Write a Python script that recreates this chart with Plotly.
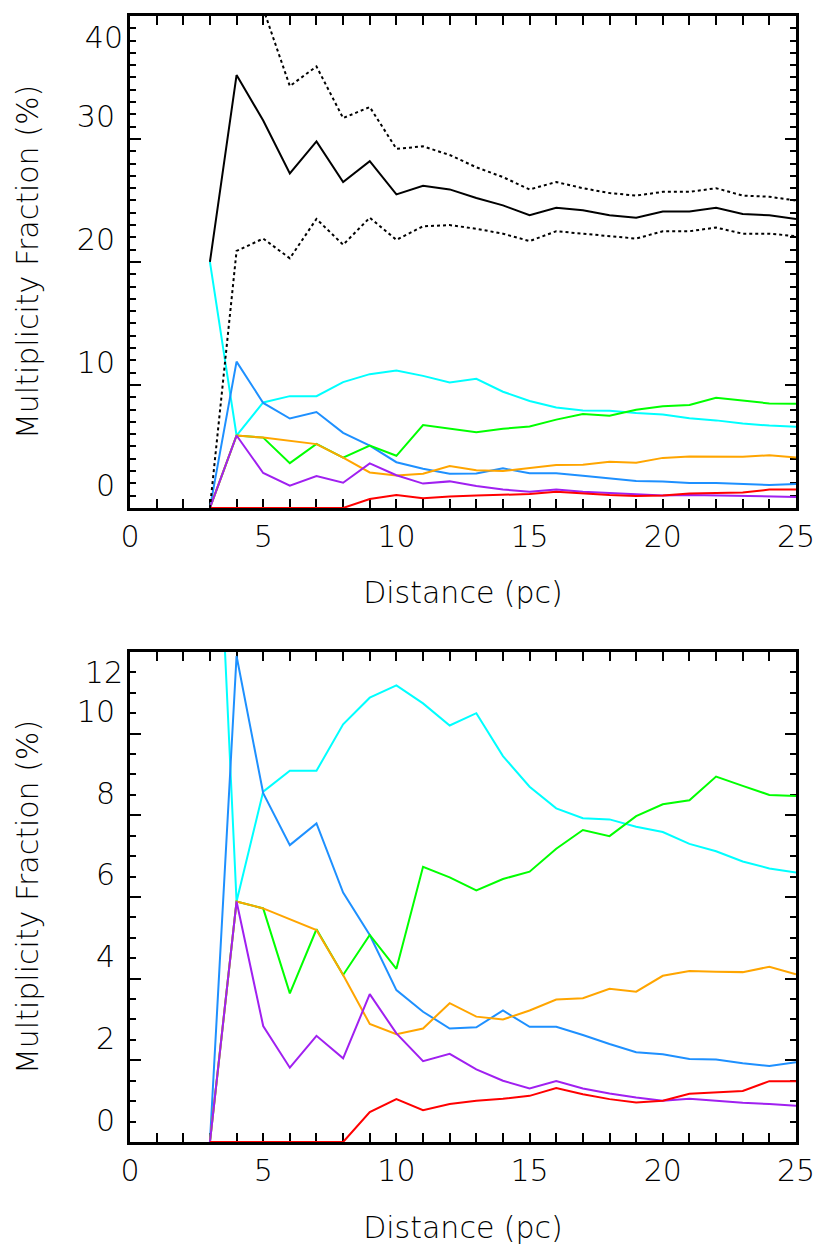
import plotly.graph_objects as go
from plotly.subplots import make_subplots

distance = list(range(3, 26))

total = [20.0, 35.2, 31.5, 27.2, 29.8, 26.5, 28.2, 25.5, 26.2, 25.9, 25.2, 24.6, 23.8,
         24.4, 24.2, 23.8, 23.6, 24.1, 24.1, 24.4, 23.9, 23.8, 23.5]
total_upper = [95.0, 55.0, 40.6, 34.3, 35.9, 31.7, 32.6, 29.2, 29.4, 28.7, 27.7, 26.9, 25.9,
               26.5, 26.0, 25.6, 25.4, 25.7, 25.7, 26.0, 25.4, 25.3, 25.0]
total_lower = [0.0, 20.9, 21.9, 20.3, 23.5, 21.4, 23.6, 21.8, 22.9, 23.0, 22.7, 22.3, 21.7,
               22.5, 22.3, 22.1, 21.9, 22.5, 22.5, 22.8, 22.3, 22.3, 22.1]

cyan_vals = [20.0, 5.89, 8.58, 9.09, 9.09, 10.23, 10.88, 11.18, 10.74, 10.20, 10.50, 9.45, 8.70,
             8.17, 7.93, 7.90, 7.72, 7.59, 7.30, 7.12, 6.87, 6.70, 6.60]
blue_vals = [0.0, 11.9, 8.54, 7.27, 7.80, 6.11, 5.07, 3.72, 3.19, 2.78, 2.81, 3.22, 2.82,
             2.82, 2.62, 2.40, 2.20, 2.15, 2.03, 2.02, 1.93, 1.86, 1.95]
green_vals = [0.0, 5.89, 5.72, 3.64, 5.21, 4.09, 5.07, 4.24, 6.74, 6.48, 6.16, 6.44, 6.62,
              7.18, 7.64, 7.49, 7.98, 8.27, 8.37, 8.95, 8.72, 8.50, 8.47]
orange_vals = [0.0, 5.89, 5.72, 5.46, 5.19, 4.09, 2.89, 2.64, 2.78, 3.40, 3.07, 3.00, 3.22,
               3.49, 3.52, 3.75, 3.68, 4.07, 4.19, 4.17, 4.16, 4.29, 4.11]
purple_vals = [0.0, 5.89, 2.84, 1.82, 2.60, 2.05, 3.62, 2.66, 1.98, 2.16, 1.78, 1.50, 1.31,
               1.49, 1.31, 1.19, 1.09, 1.01, 1.06, 1.01, 0.96, 0.93, 0.89]
red_vals = [0.0, 0.0, 0.0, 0.0, 0.0, 0.0, 0.73, 1.05, 0.78, 0.93, 1.01, 1.06, 1.13,
            1.32, 1.17, 1.05, 0.97, 1.01, 1.18, 1.21, 1.25, 1.49, 1.49]

top_yticks = [0, 10, 20, 30]
top_ytick_max = [40]
bottom_yticks = [0, 2, 4, 6, 8, 10]
bottom_ytick_max = [12]

colored = [
    (cyan_vals, "#00FFFF"),
    (blue_vals, "#1E90FF"),
    (green_vals, "#00FF00"),
    (orange_vals, "#FFA500"),
    (purple_vals, "#A020F0"),
    (red_vals, "#FF0000"),
]

FONT = "DejaVu Sans"
FW = 200
tfont = dict(family=FONT, size=30, color="black", weight=FW)

fig = make_subplots(rows=2, cols=1, vertical_spacing=0.1279)

for row in (1, 2):
    for vals, col in colored:
        fig.add_trace(go.Scatter(x=distance, y=vals, mode="lines",
                                 line=dict(color=col, width=2), showlegend=False), row=row, col=1)

fig.add_trace(go.Scatter(x=distance, y=total, mode="lines",
                         line=dict(color="black", width=2), showlegend=False), row=1, col=1)
fig.add_trace(go.Scatter(x=distance, y=total_upper, mode="lines",
                         line=dict(color="black", width=2, dash="dot"), showlegend=False), row=1, col=1)
fig.add_trace(go.Scatter(x=distance, y=total_lower, mode="lines",
                         line=dict(color="black", width=2, dash="dot"), showlegend=False), row=1, col=1)

axis_common = dict(showgrid=False, zeroline=False, showline=True, linecolor="black", linewidth=3,
                   mirror="allticks", ticks="inside", tickcolor="black", tickwidth=2,
                   tickfont=tfont, layer="below traces", automargin=False)

for row in (1, 2):
    fig.update_xaxes(range=[0, 25], tickmode="linear", tick0=0, dtick=5, ticklen=9,
                     minor=dict(ticks="inside", dtick=1, tick0=0, ticklen=5, tickwidth=2, tickcolor="black"),
                     ticklabelstandoff=0,
                     title=dict(text="Distance (pc)", font=tfont, standoff=30),
                     row=row, col=1, **axis_common)

fig.update_yaxes(range=[0, 40], tickmode="array", tickvals=top_yticks, ticklen=11,
                 ticklabelposition="outside top",
                 minor=dict(ticks="inside", dtick=1, tick0=0, ticklen=6, tickwidth=2, tickcolor="black"),
                 ticklabelstandoff=6,
                 title=dict(text="Multiplicity Fraction (%)", font=tfont, standoff=30),
                 row=1, col=1, **axis_common)
fig.update_yaxes(range=[0, 12], tickmode="array", tickvals=bottom_yticks, ticklen=11,
                 ticklabelposition="outside top",
                 minor=dict(ticks="inside", dtick=0.5, tick0=0, ticklen=6, tickwidth=2, tickcolor="black"),
                 ticklabelstandoff=6,
                 title=dict(text="Multiplicity Fraction (%)", font=tfont, standoff=30),
                 row=2, col=1, **axis_common)

fig.update_layout(width=817, height=1248, margin=dict(l=130, r=21, t=16, b=106),
                  plot_bgcolor="rgba(0,0,0,0)", paper_bgcolor="white", showlegend=False)
fig.layout.yaxis.domain = [0.5631, 1.0]
fig.layout.yaxis2.domain = [0.0, 0.4352]

# label for the highest tick of each panel, drawn just below the tick
fig.add_trace(go.Scatter(x=[None], y=[None], xaxis="x", yaxis="y3", mode="lines",
                         showlegend=False, hoverinfo="skip"))
fig.add_trace(go.Scatter(x=[None], y=[None], xaxis="x2", yaxis="y4", mode="lines",
                         showlegend=False, hoverinfo="skip"))
fig.update_layout(
    yaxis3=dict(overlaying="y", anchor="x", side="left", range=[0, 40], tickmode="array",
                tickvals=top_ytick_max, ticks="", showline=False, showgrid=False, zeroline=False,
                tickfont=tfont, ticklabelposition="outside bottom", ticklabelstandoff=6,
                ticklabeloverflow="allow", automargin=False),
    yaxis4=dict(overlaying="y2", anchor="x2", side="left", range=[0, 12], tickmode="array",
                tickvals=bottom_ytick_max, ticks="", showline=False, showgrid=False, zeroline=False,
                tickfont=tfont, ticklabelposition="outside bottom", ticklabelstandoff=6,
                ticklabeloverflow="allow", automargin=False),
)

fig.write_html("out.html")
